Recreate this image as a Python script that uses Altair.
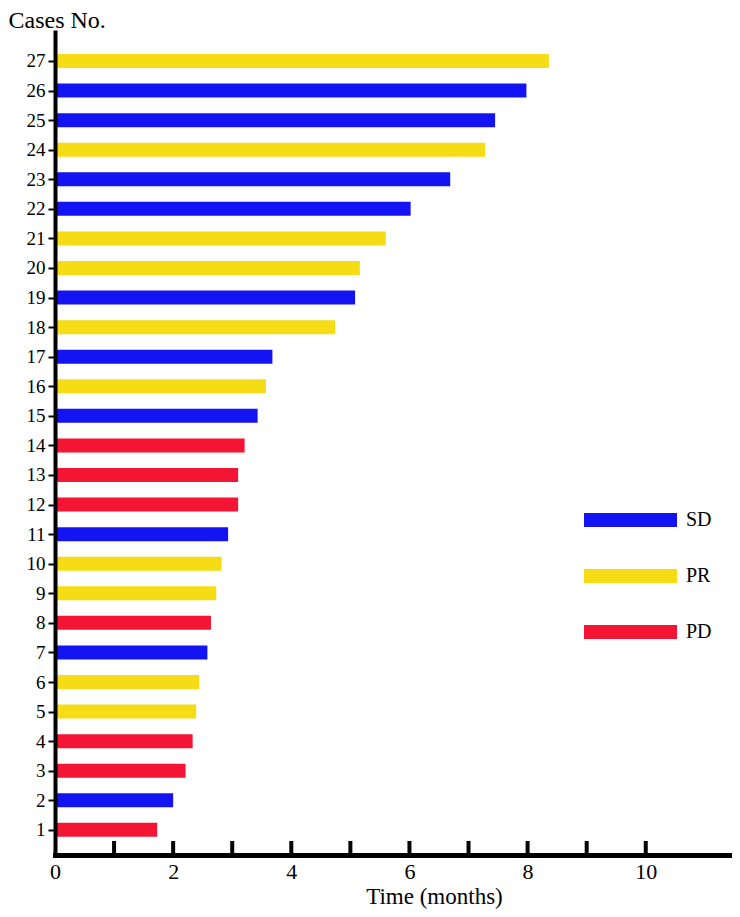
import altair as alt
import pandas as pd

cases = list(range(1, 28))
months = [1.73, 2.0, 2.21, 2.33, 2.39, 2.44, 2.58, 2.64, 2.73, 2.82, 2.93, 3.1, 3.1,
          3.21, 3.43, 3.57, 3.68, 4.74, 5.08, 5.16, 5.6, 6.02, 6.69, 7.28, 7.45, 7.98, 8.36]
response = ["PD", "SD", "PD", "PD", "PR", "PR", "SD", "PD", "PR", "PR", "SD", "PD", "PD",
            "PD", "SD", "PR", "SD", "PR", "SD", "PR", "PR", "SD", "SD", "PR", "SD", "SD", "PR"]
legend_labels = ["SD", "PR", "PD"]
legend_colors = ["#1414F2", "#F5DC14", "#F41535"]
x_tick_values = [1, 2, 3, 4, 5, 6, 7, 8, 9, 10]
x_label_values = [0, 2, 4, 6, 8, 10]

FONT = "Liberation Serif"

df = pd.DataFrame({"case": cases, "months": months, "response": response})
ticks_df = pd.DataFrame({"t": x_tick_values})
leg_df = pd.DataFrame({"label": legend_labels})

color_scale = alt.Scale(domain=legend_labels, range=legend_colors)
x_scale = alt.Scale(domain=[0, 11.46], nice=False, zero=True, padding=0)
x_axis = alt.Axis(values=x_label_values, ticks=False, grid=False, labelFlush=False,
                  domainWidth=5, domainColor="black", domainCap="square",
                  labelFont=FONT, labelFontSize=22, labelColor="black", labelPadding=6,
                  title="Time (months)", titleFont=FONT, titleFontSize=23,
                  titleFontWeight="normal", titleColor="black",
                  titleX=379, titleY=41, titleAlign="center", titleBaseline="middle",
                  zindex=1)
y_axis = alt.Axis(values=cases, grid=False, labelFlush=False,
                  domainWidth=4, domainColor="black", domainCap="square",
                  tickSize=7, tickWidth=2, tickColor="black",
                  labelFont=FONT, labelFontSize=19, labelColor="black", labelPadding=3,
                  title="Cases No.", titleAngle=0, titleAlign="left", titleBaseline="middle",
                  titleX=-47, titleY=-12, titleFont=FONT, titleFontSize=24,
                  titleFontWeight="normal", titleColor="black", zindex=1)

bars = alt.Chart(df).mark_bar(orient="horizontal", size=14).encode(
    x=alt.X("months:Q", scale=x_scale, axis=x_axis),
    y=alt.Y("case:Q", scale=alt.Scale(domain=[0.15, 27.98], nice=False, zero=False, padding=0),
            axis=y_axis),
    color=alt.Color("response:N", scale=color_scale, legend=None),
)

ticks = alt.Chart(ticks_df).mark_rule(color="black", strokeWidth=4).encode(
    x=alt.X("t:Q", scale=x_scale, axis=x_axis),
    y=alt.value(809),
    y2=alt.value(823),
)

leg_y = alt.Y("label:N", scale=alt.Scale(type="point", domain=legend_labels, range=[488, 600], padding=0),
              axis=None)

leg_rules = alt.Chart(leg_df).mark_rule(strokeWidth=14).encode(
    x=alt.value(529),
    x2=alt.value(622),
    y=leg_y,
    color=alt.Color("label:N", scale=color_scale, legend=None),
)

leg_text = alt.Chart(leg_df).mark_text(align="left", baseline="middle", font=FONT,
                                       fontSize=20, color="black").encode(
    x=alt.value(631),
    y=leg_y,
    text="label:N",
)

chart = alt.layer(bars, ticks, leg_rules, leg_text).resolve_scale(y="independent").properties(
    width=677,
    height=823,
    autosize=alt.AutoSizeParams(type="none"),
    padding={"left": 47, "top": 24, "right": 0, "bottom": 54},
).configure_view(stroke=None)

chart.save("out.html", embed_options={"renderer": "svg", "actions": False})
